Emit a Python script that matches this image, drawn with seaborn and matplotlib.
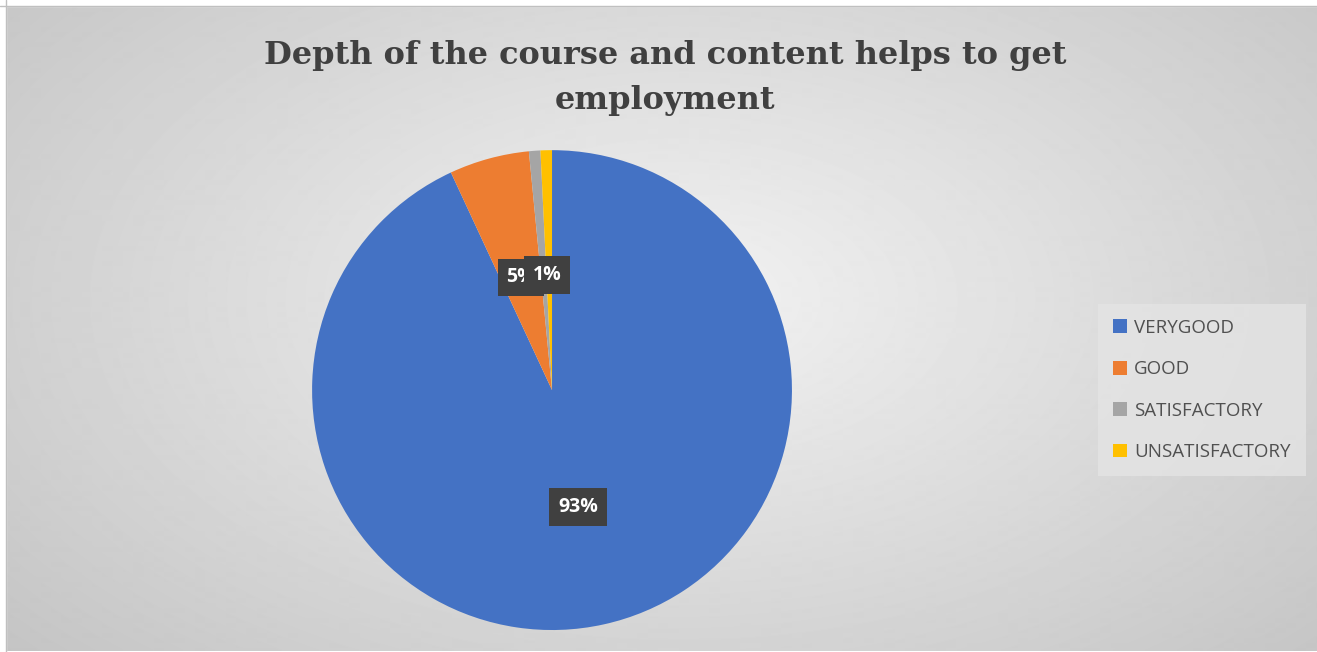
import numpy as np
import matplotlib
matplotlib.use("Agg")
import matplotlib.pyplot as plt
import seaborn as sns

# data
categories = ["VERYGOOD", "GOOD", "SATISFACTORY", "UNSATISFACTORY"]
counts = [121, 7, 1, 1]
colors = ["#4472C4", "#ED7D31", "#A5A5A5", "#FFC000"]
title = "Depth of the course and content helps to get\nemployment"

sns.set_theme(style="white")
plt.rcParams["font.family"] = ["Open Sans", "DejaVu Sans"]

fig = plt.figure(figsize=(13.17, 6.52), dpi=100)

# gradient background
bg = fig.add_axes([0, 0, 1, 1], zorder=-1)
yy, xx = np.mgrid[0:652, 0:1317]
d = np.sqrt(((xx - 680) / 900.0) ** 2 + ((yy - 300) / 520.0) ** 2)
grad = 0.95 - 0.18 * np.clip(d, 0, 1.2)
bg.imshow(grad, cmap="gray", vmin=0, vmax=1, aspect="auto", interpolation="bilinear")
bg.axhline(6, color="#c0c0c0", lw=1)
bg.axvline(6, color="#c0c0c0", lw=1)
bg.fill_between([0, 1317], 0, 6, color="white")
bg.fill_betweenx([0, 652], 0, 6, color="white")
bg.set_xlim(0, 1317)
bg.set_ylim(652, 0)
bg.axis("off")

ax = fig.add_axes([0.2369, 0.0337, 0.3645, 0.736])
ax.set_facecolor("none")
wedges, texts, autotexts = ax.pie(
    counts, colors=colors, startangle=90, counterclock=False,
    autopct=lambda p: f"{p:.0f}%", pctdistance=0.5,
    wedgeprops=dict(linewidth=0),
)
ax.set_xlim(-1, 1)
ax.set_ylim(-1, 1)
ax.set_aspect("equal")
for t in autotexts:
    t.set_color("white")
    t.set_fontweight("bold")
    t.set_fontsize(14)
    t.set_bbox(dict(boxstyle="square,pad=0.45", facecolor="#404040", edgecolor="none"))
# move small labels like the original (overlapping boxes)
autotexts[1].set_position((-0.13, 0.47))
autotexts[2].set_position((-0.02, 0.48))
autotexts[3].set_position((-0.02, 0.48))

fig.text(0.505, 0.938, title, ha="center", va="top", fontsize=23,
         fontweight="bold", family="DejaVu Serif", color="#404040",
         linespacing=1.55)

leg = fig.legend(wedges, categories, loc="center left",
                 bbox_to_anchor=(0.834, 0.402), frameon=True,
                 fontsize=13.5, labelspacing=1.25, handlelength=0.75,
                 handleheight=0.75, handletextpad=0.35, borderpad=0.8,
                 borderaxespad=0, fancybox=False)
leg.get_frame().set_facecolor("#e4e4e4")
leg.get_frame().set_edgecolor("none")
for t in leg.get_texts():
    t.set_color("#505050")

fig.savefig("out.png", dpi=100)
